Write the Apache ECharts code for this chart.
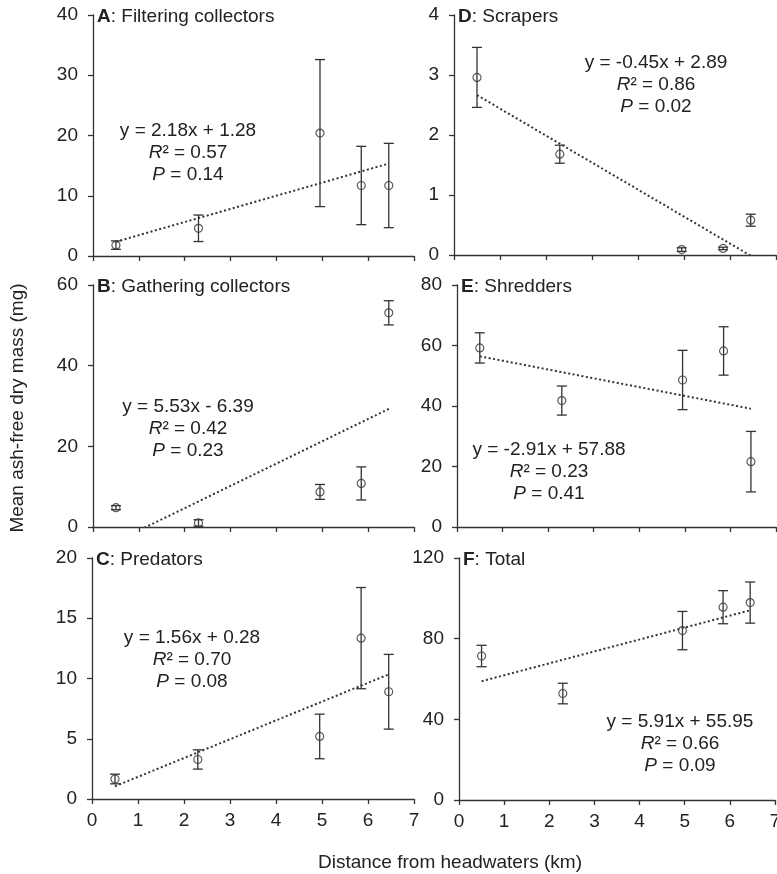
<!DOCTYPE html>
<html>
<head>
<meta charset="utf-8">
<script src="https://cdn.jsdelivr.net/npm/echarts@6/dist/echarts.min.js"></script>
<style>
  html, body { margin: 0; padding: 0; background: #fff; }
  #main { width: 777px; height: 874px; }
</style>
</head>
<body>
<div id="main"></div>
<script>
// distance of the five sites from headwaters (km)
var distance = [0.5, 2.3, 4.95, 5.85, 6.45];

// mean ash-free dry mass (mg) and error per group
var filteringMean = [1.8, 4.6, 20.4, 11.7, 11.7];
var filteringErr = [0.7, 2.2, 12.2, 6.5, 7.0];
var gatheringMean = [4.8, 1.0, 8.7, 10.8, 53.1];
var gatheringErr = [0.5, 0.8, 1.85, 4.1, 3.0];
var predatorsMean = [1.66, 3.28, 5.19, 13.35, 8.9];
var predatorsErr = [0.4, 0.8, 1.85, 4.2, 3.1];
var scrapersMean = [2.96, 1.68, 0.09, 0.11, 0.58];
var scrapersErr = [0.5, 0.15, 0.03, 0.02, 0.1];
var shreddersMean = [59.2, 41.8, 48.6, 58.2, 21.6];
var shreddersErr = [5.0, 4.8, 9.8, 8.0, 10.0];
var totalMean = [71.4, 52.8, 84.0, 95.6, 97.9];
var totalErr = [5.3, 5.1, 9.5, 8.2, 10.2];

// regression results
var slopes = [2.18, 5.53, 1.56, -0.45, -2.91, 5.91];
var intercepts = [1.28, -6.39, 0.28, 2.89, 57.88, 55.95];
var equations = ['y = 2.18x + 1.28', 'y = 5.53x - 6.39', 'y = 1.56x + 0.28',
  'y = -0.45x + 2.89', 'y = -2.91x + 57.88', 'y = 5.91x + 55.95'];
var r2Values = ['0.57', '0.42', '0.70', '0.86', '0.23', '0.66'];
var pValues = ['0.14', '0.23', '0.08', '0.02', '0.41', '0.09'];

var panelLetters = ['A', 'B', 'C', 'D', 'E', 'F'];
var panelNames = ['Filtering collectors', 'Gathering collectors', 'Predators',
  'Scrapers', 'Shredders', 'Total'];
var yMax = [40, 60, 20, 4, 80, 120];
var yStep = [10, 20, 5, 1, 20, 40];
var xTicks = [0, 7, 1]; // min, max, interval

var means = [filteringMean, gatheringMean, predatorsMean, scrapersMean, shreddersMean, totalMean];
var errs = [filteringErr, gatheringErr, predatorsErr, scrapersErr, shreddersErr, totalErr];

// layout
var FONT = "'Liberation Sans', Arial, sans-serif";
var FS = 19;
var INK = '#333';
var TXT = '#222';
var gridBoxes = [
  { left: 93, top: 15, width: 321, height: 241 },
  { left: 93, top: 285, width: 321, height: 242 },
  { left: 92, top: 558, width: 322, height: 241 },
  { left: 454, top: 15, width: 322, height: 240 },
  { left: 457, top: 285, width: 319, height: 242 },
  { left: 459, top: 558, width: 316, height: 242 }
];
var eqPos = [[188, 131], [188, 407], [192, 638], [656, 63], [549, 450], [680, 722]];
var lineGap = 21.8;

var myChart = echarts.init(document.getElementById('main'));

var grid = [], xAxis = [], yAxis = [], series = [], title = [], graphic = [];

function errorBar(params, api) {
  var x = api.value(0), y = api.value(1), e = api.value(2);
  var hi = api.coord([x, y + e]);
  var lo = api.coord([x, y - e]);
  var cap = 5;
  var st = { stroke: INK, lineWidth: 1.3 };
  return {
    type: 'group',
    children: [
      { type: 'line', shape: { x1: hi[0], y1: hi[1], x2: lo[0], y2: lo[1] }, style: st },
      { type: 'line', shape: { x1: hi[0] - cap, y1: hi[1], x2: hi[0] + cap, y2: hi[1] }, style: st },
      { type: 'line', shape: { x1: lo[0] - cap, y1: lo[1], x2: lo[0] + cap, y2: lo[1] }, style: st }
    ]
  };
}

for (var i = 0; i < 6; i++) {
  var g = gridBoxes[i];
  var bottomRow = (i === 2 || i === 5);
  grid.push({ left: g.left, top: g.top, width: g.width, height: g.height,
    containLabel: false, outerBoundsMode: 'none' });

  xAxis.push({
    type: 'value', gridIndex: i, min: xTicks[0], max: xTicks[1], interval: xTicks[2],
    axisLine: { lineStyle: { color: INK, width: 1.3 } },
    axisTick: { show: true, length: 5, lineStyle: { color: INK, width: 1.3 } },
    axisLabel: { show: bottomRow, color: TXT, fontSize: FS, fontFamily: FONT, margin: 12,
      hideOverlap: false },
    splitLine: { show: false }
  });
  yAxis.push({
    type: 'value', gridIndex: i, min: 0, max: yMax[i], interval: yStep[i],
    axisLine: { show: true, lineStyle: { color: INK, width: 1.3 } },
    axisTick: { show: true, length: 5, lineStyle: { color: INK, width: 1.3 } },
    axisLabel: { color: TXT, fontSize: FS, fontFamily: FONT, margin: 15 },
    splitLine: { show: false }
  });

  var pts = [], bars = [];
  for (var k = 0; k < distance.length; k++) {
    pts.push([distance[k], means[i][k]]);
    bars.push([distance[k], means[i][k], errs[i][k]]);
  }
  var x0 = distance[0], x1 = distance[distance.length - 1];
  var trend = [[x0, slopes[i] * x0 + intercepts[i]], [x1, slopes[i] * x1 + intercepts[i]]];

  series.push({
    type: 'line', xAxisIndex: i, yAxisIndex: i, data: trend, symbol: 'none', clip: true,
    lineStyle: { color: INK, width: 2, type: [2, 2.5] }, silent: true, z: 2
  });
  series.push({
    type: 'custom', xAxisIndex: i, yAxisIndex: i, data: bars, renderItem: errorBar, z: 3
  });
  series.push({
    type: 'scatter', xAxisIndex: i, yAxisIndex: i, data: pts, symbol: 'circle', symbolSize: 8,
    itemStyle: { color: 'rgba(0,0,0,0)', borderColor: INK, borderWidth: 1.2 }, z: 4
  });

  title.push({
    text: '{b|' + panelLetters[i] + '}: ' + panelNames[i],
    left: g.left + 4, top: g.top - 8, padding: 0,
    textStyle: {
      fontSize: FS, fontFamily: FONT, color: TXT, fontWeight: 'normal',
      rich: { b: { fontSize: FS, fontFamily: FONT, color: TXT, fontWeight: 'bold' } }
    }
  });

  var ex = eqPos[i][0], ey = eqPos[i][1];
  var lines = [
    equations[i],
    '{i|R}\u00b2 = ' + r2Values[i],
    '{i|P} = ' + pValues[i]
  ];
  for (var j = 0; j < 3; j++) {
    graphic.push({
      type: 'text', x: ex, y: ey + j * lineGap, silent: true,
      style: {
        text: lines[j], fill: TXT, font: FS + 'px ' + FONT, align: 'center', verticalAlign: 'middle',
        rich: { i: { fontStyle: 'italic', fontSize: FS, fontFamily: FONT, fill: TXT } }
      }
    });
  }
}

graphic.push({
  type: 'text', x: 450, y: 863, silent: true,
  style: { text: 'Distance from headwaters (km)', fill: TXT, font: FS + 'px ' + FONT, align: 'center', verticalAlign: 'middle' }
});
graphic.push({
  type: 'text', x: 18, y: 408, rotation: Math.PI / 2, silent: true,
  style: { text: 'Mean ash-free dry mass (mg)', fill: TXT, font: FS + 'px ' + FONT, align: 'center', verticalAlign: 'middle' }
});

var option = {
  backgroundColor: '#fff',
  animation: false,
  title: title,
  grid: grid,
  xAxis: xAxis,
  yAxis: yAxis,
  series: series,
  graphic: graphic
};

myChart.setOption(option);
</script>
</body>
</html>
